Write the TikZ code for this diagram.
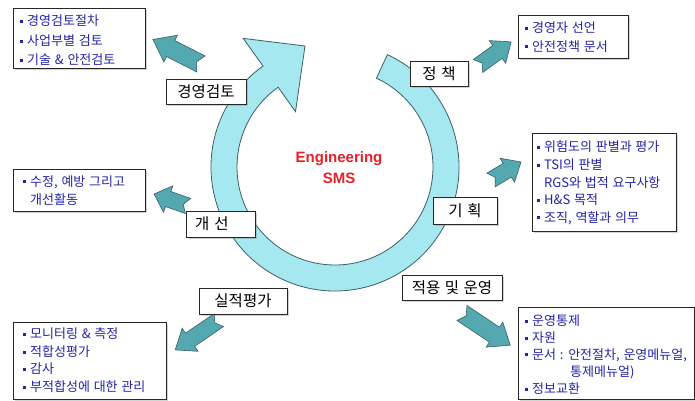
\documentclass[tikz,border=0pt]{standalone}
\usepackage{fontspec}
\newfontfamily\kri[WordSpace=1.5]{Noto Sans CJK KR}
\newfontfamily\krl[WordSpace=1.3]{Noto Sans CJK KR}
\newfontfamily\lsans{Liberation Sans}
\usetikzlibrary{calc,shadows}
\definecolor{ringfill}{RGB}{166,232,240}
\definecolor{ringline}{RGB}{60,95,105}
\definecolor{arrfill}{RGB}{84,168,176}
\definecolor{navy}{RGB}{36,36,168}
\definecolor{smsred}{RGB}{232,32,40}
\newcommand\bul{\textcolor{navy}{\rule[3.3pt]{3pt}{3pt}}\hspace{4pt}}
% tail point, angle, length, shaft half width, head half width, head length
\newcommand\blockarrow[6]{%
\begin{scope}[shift={(#1)}, rotate=#2]
\draw[blk] (0,-#4) -- (#3-#6,-#4) -- (#3-#6,-#5) -- (#3,0) -- (#3-#6,#5) -- (#3-#6,#4) -- (0,#4) -- (5,0) -- cycle;
\end{scope}}
\begin{document}
\begin{tikzpicture}[x=1pt,y=-1pt,
  ring/.style={draw=ringline, line width=0.8pt, fill=ringfill},
  blk/.style={draw=ringline, line width=0.6pt, fill=arrfill},
  lbl/.style={draw=black!85, line width=0.8pt, fill=white, inner sep=0pt,
    font=\krl\fontsize{15.5}{15.5}\selectfont,
    drop shadow={shadow xshift=1.5pt, shadow yshift=-1.5pt, opacity=0.35, fill=black!50}},
  lst/.style={draw=black!85, line width=0.8pt, fill=white,
    drop shadow={shadow xshift=1.5pt, shadow yshift=-1.5pt, opacity=0.35, fill=black!50}},
  item/.style={anchor=west, inner sep=0pt, font=\kri\fontsize{13}{13}\selectfont, text=navy}]
\useasboundingbox (0,0) rectangle (695,400);
\fill[white] (0,0) rectangle (695,400);

% circular arrow
\coordinate (C) at (335,167);
\coordinate (tip) at (305,46);
\draw[ring] ($(C)+(-65:124)$) arc[start angle=-65, end angle=234.5, radius=124]
  -- ($(C)+(234.5:127)$) -- ($(C)+(234.5:158)$) -- (tip)
  -- ($(C)+(234.5:68)$) -- ($(C)+(234.5:98)$)
  arc[start angle=234.5, end angle=-65, radius=98] -- cycle;

\node[font=\lsans\bfseries\fontsize{15}{21}\selectfont, text=smsred, align=center] (sms) at (339,168) {Engineering\\SMS};

% block arrows
\blockarrow{201,64}{153}{54}{9}{15}{20}
\blockarrow{478,66}{36}{41}{8}{14}{17}
\blockarrow{491,180}{31}{35}{8}{14}{16}
\blockarrow{188,206}{160.6}{36}{8}{14}{15}
\blockarrow{219,320}{214.3}{53}{8}{14}{18}
\blockarrow{462,313}{-33.7}{58}{9}{15}{19}

% label boxes
\node[lbl, minimum width=80, minimum height=25] (review) at (206,91.5) {경영검토};
\node[lbl, minimum width=58, minimum height=25] (policy) at (439,73.5) {정 책};
\node[lbl, minimum width=64, minimum height=27] (plan) at (465,210.5) {기 획};
\node[lbl, minimum height=26, text width=51, inner xsep=9pt, align=left] (improve) at (220.5,224) {개 선};
\node[lbl, minimum width=88, minimum height=26] (perf) at (243,301) {실적평가};
\node[lbl, minimum width=100, minimum height=25] (oper) at (452,287.5) {적용 및 운영};

% list boxes
\draw[lst] (13,8) rectangle (145,68);
\node[item] (tl1) at (20,21) {\bul 경영검토절차};
\node[item] (tl2) at (20,41) {\bul 사업부별 검토};
\node[item] (tl3) at (20,60) {\bul 기술 \& 안전검토};

\draw[lst] (518,15) rectangle (628,58);
\node[item] (tr1) at (525,28) {\bul 경영자 선언};
\node[item] (tr2) at (525,46.5) {\bul 안전정책 문서};

\draw[lst] (532,133) rectangle (676,231);
\node[item] (rm1) at (537,147) {\bul 위험도의 판별과 평가};
\node[item] (rm2) at (537,165) {\bul TSI의 판별};
\node[item] (rm3) at (544,183) {RGS와 법적 요구사항};
\node[item] (rm4) at (537,200) {\bul H\&S 목적};
\node[item] (rm5) at (537,218) {\bul 조직, 역할과 의무};

\draw[lst] (13,169) rectangle (145,211);
\node[item] (lm1) at (23,182.5) {\bul 수정, 예방 그리고};
\node[item] (lm2) at (30,200) {개선활동};

\draw[lst] (13,322) rectangle (166,399.4);
\node[item] (bl1) at (23,334) {\bul 모니터링 \& 측정};
\node[item] (bl2) at (23,352) {\bul 적합성평가};
\node[item] (bl3) at (23,369) {\bul 감사};
\node[item] (bl4) at (23,387) {\bul 부적합성에 대한 관리};

\draw[lst] (518,307) rectangle (694.4,399.4);
\node[item] (br1) at (525,321) {\bul 운영통제};
\node[item] (br2) at (525,338) {\bul 자원};
\node[item] (br3) at (525,355) {\bul 문서 : 안전절차, 운영메뉴얼,};
\node[item] (br4) at (570,372) {통제메뉴얼)};
\node[item] (br5) at (525,389) {\bul 정보교환};
\end{tikzpicture}
\end{document}
